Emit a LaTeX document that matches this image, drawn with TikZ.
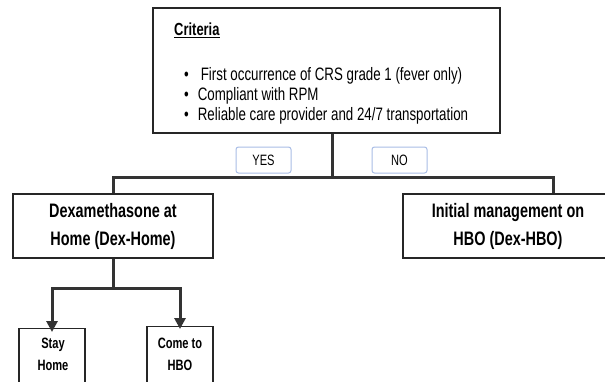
\documentclass[tikz,border=0pt]{standalone}
\usepackage{fontspec}
\setmainfont{Liberation Sans}[FakeStretch=0.74]
\usetikzlibrary{arrows.meta}
\definecolor{conn}{HTML}{333333}
\definecolor{tagblue}{HTML}{A9BDE6}
\begin{document}
\begin{tikzpicture}[x=1pt,y=-1pt,
  box/.style={draw=black!85,line width=1.3pt,inner sep=0pt},
  tag/.style={draw=tagblue,line width=1pt,rounded corners=2.5pt,minimum width=55pt,minimum height=26pt,inner sep=0pt,font=\fontsize{15}{17}\selectfont},
  link/.style={draw=conn,line width=3pt},
  arr/.style={link,-{Triangle[width=11pt,length=11pt]}},
  bigtext/.style={font=\bfseries\fontsize{19.5}{28}\selectfont,align=center},
  smalltext/.style={font=\bfseries\fontsize{15}{22}\selectfont,align=center},
  bul/.style={anchor=west,inner sep=0pt,font=\fontsize{18}{20}\selectfont}]
\useasboundingbox (0,0) rectangle (605,381);
\clip (0,0) rectangle (605,381);
\fill[white] (0,0) rectangle (605,381);
% criteria box
\node[box,minimum width=347pt,minimum height=125pt] (crit) at (326.5,70.5) {};
\node[anchor=west,inner sep=0pt,font=\bfseries\fontsize{17.5}{19}\selectfont] (title) at (174,30) {\underline{Criteria}};
\node[bul] (b1) at (184,76) {\textbullet\hspace{12pt}First occurrence of CRS grade 1 (fever only)};
\node[bul] (b2) at (184,96) {\textbullet\hspace{9pt}Compliant with RPM};
\node[bul] (b3) at (184,116) {\textbullet\hspace{9pt}Reliable care provider and 24/7 transportation};
% tags
\node[tag] (yes) at (263.5,160) {YES};
\node[tag] (no) at (399.5,160) {NO};
% second level
\node[box,minimum width=200pt,minimum height=64pt,bigtext] (dexhome) at (113,226) {Dexamethasone at\\Home (Dex-Home)};
\node[box,minimum width=210pt,minimum height=64pt,bigtext] (dexhbo) at (508,226) {Initial management on\\HBO (Dex-HBO)};
% third level
\node[box,minimum width=66pt,minimum height=62pt,anchor=north] (stay) at (52,328) {};
\node[smalltext] (staytxt) at (53,354) {Stay\\Home};
\node[box,minimum width=66pt,minimum height=64pt,anchor=north] (come) at (180,326) {};
\node[smalltext] (cometxt) at (180,354) {Come to\\HBO};
% connectors
\coordinate (hub) at (332,177);
\coordinate (rj) at (553,177);
\coordinate (split) at (113,288);
\draw[link] (crit.south -| hub) -- (hub);
\draw[link] (dexhome.north) |- (hub) -- (rj) -- (rj |- dexhbo.north);
\draw[link] (dexhome.south) -- (split);
\draw[arr] (split) -| ([yshift=-4pt]stay.north);
\draw[arr] (split) -| ([yshift=-3pt]come.north);
\end{tikzpicture}
\end{document}
